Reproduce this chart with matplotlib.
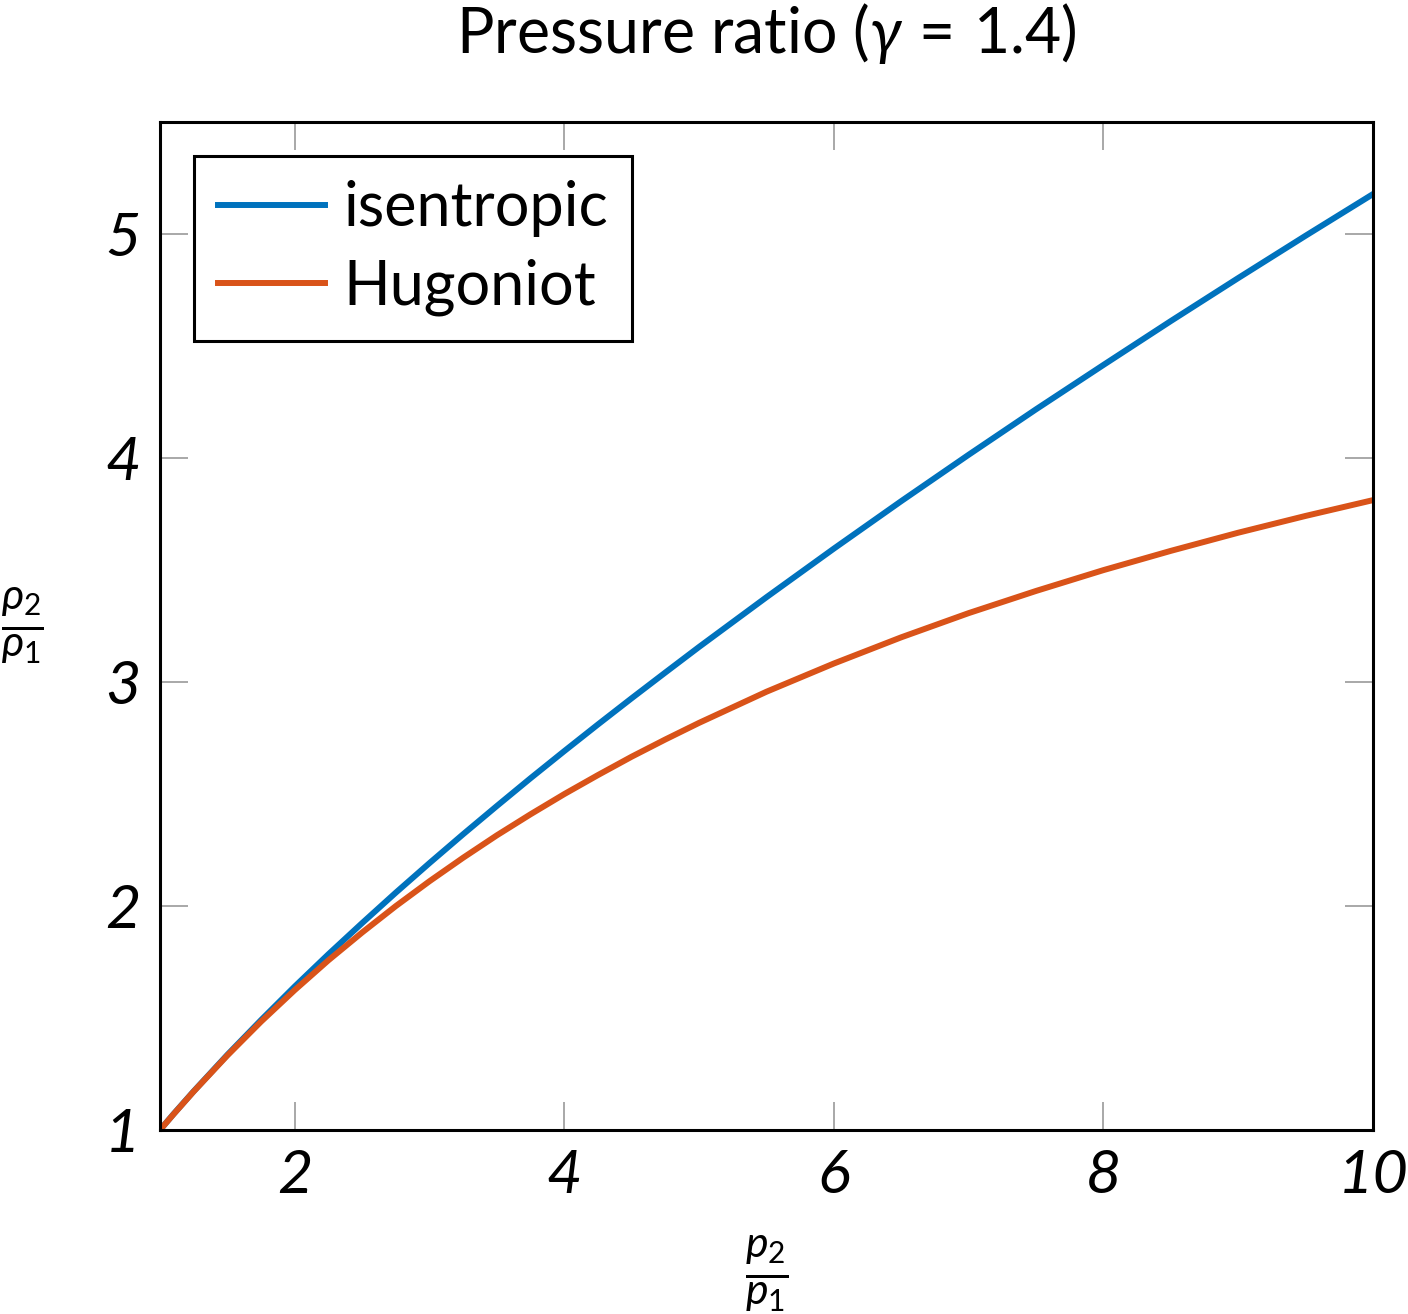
import matplotlib
matplotlib.use("Agg")
import matplotlib.pyplot as plt

plt.rcParams['font.family'] = ['Lato', 'DejaVu Sans']
plt.rcParams['mathtext.fontset'] = 'custom'
plt.rcParams['mathtext.rm'] = 'Lato'
plt.rcParams['mathtext.it'] = 'Lato:italic'
plt.rcParams['mathtext.bf'] = 'Lato:bold'

# values
pressure_ratio = [1.0, 1.1, 1.25, 1.5, 1.75, 2.0, 2.25, 2.5, 2.75, 3.0, 3.25, 3.5,
                  3.75, 4.0, 4.25, 4.5, 4.75, 5.0, 5.5, 6.0, 6.5, 7.0, 7.5, 8.0,
                  8.5, 9.0, 9.5, 10.0]
isentropic = [1.0, 1.071, 1.173, 1.336, 1.491, 1.641, 1.785, 1.924, 2.060, 2.192,
              2.321, 2.447, 2.571, 2.692, 2.811, 2.928, 3.043, 3.157, 3.379, 3.596,
              3.808, 4.015, 4.218, 4.416, 4.612, 4.804, 4.993, 5.179]
hugoniot = [1.0, 1.070, 1.172, 1.333, 1.484, 1.625, 1.758, 1.882, 2.0, 2.111,
            2.216, 2.316, 2.410, 2.5, 2.585, 2.667, 2.744, 2.818, 2.957, 3.083,
            3.2, 3.308, 3.407, 3.5, 3.586, 3.667, 3.742, 3.8125]
x_ticks = [2, 4, 6, 8, 10]
y_ticks = [1, 2, 3, 4, 5]

fig = plt.figure(figsize=(14.08, 13.14), dpi=100)
ax = fig.add_axes([0.1136, 0.140, 0.8615, 0.767])

ax.plot(pressure_ratio, isentropic, color='#0072BD', lw=4.3, label='isentropic')
ax.plot(pressure_ratio, hugoniot, color='#D95319', lw=4.3, label='Hugoniot')

ax.set_xlim(1, 10)
ax.set_ylim(1, 5.5)
ax.set_xticks(x_ticks)
ax.set_yticks(y_ticks)
ax.set_xticklabels([str(t) for t in x_ticks], fontstyle='italic', fontsize=44)
ax.set_yticklabels([str(t) for t in y_ticks], fontstyle='italic', fontsize=44)
ax.tick_params(direction='in', length=20, width=1.2, color='#999999',
               top=True, right=True, pad=14)
for s in ax.spines.values():
    s.set_linewidth(2.2)

ax.set_xlabel(r'$\frac{p_2}{p_1}$', fontsize=44, labelpad=22)
ax.set_ylabel(r'$\frac{\rho_2}{\rho_1}$', fontsize=44, rotation=0,
              va='center', ha='center')
ax.yaxis.set_label_coords(-0.113, 0.5)
ax.set_title(r'Pressure ratio $(\gamma\, =\, \mathit{1.4})$', fontsize=45, pad=50)

leg = ax.legend(loc='upper left', fontsize=44, fancybox=False, framealpha=1,
                edgecolor='black', borderpad=0.4, handlelength=1.75,
                handletextpad=0.3, borderaxespad=0.55, labelspacing=0.35)
leg.get_frame().set_linewidth(2.2)

fig.savefig('out.png', dpi=100)
